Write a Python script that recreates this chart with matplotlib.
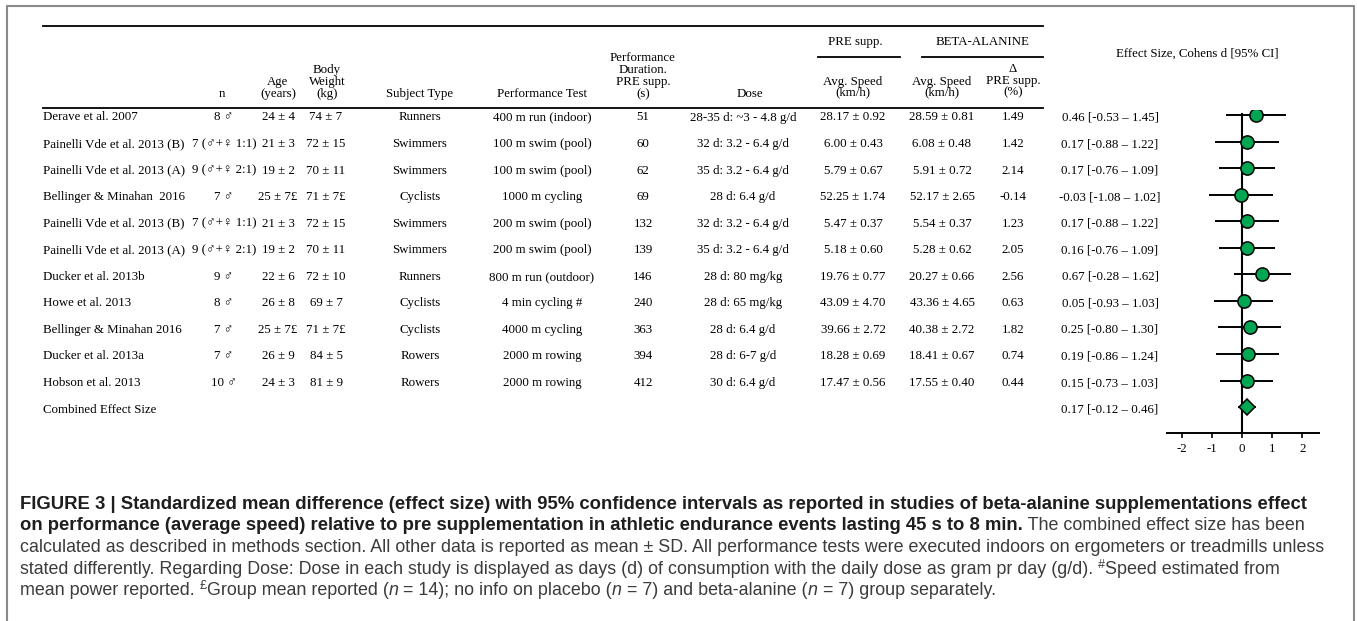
import matplotlib.pyplot as plt
import numpy as np

# table data, one entry per study row
studies = ["Derave et al. 2007", "Painelli Vde et al. 2013 (B)", "Painelli Vde et al. 2013 (A)",
           "Bellinger & Minahan  2016", "Painelli Vde et al. 2013 (B)", "Painelli Vde et al. 2013 (A)",
           "Ducker et al. 2013b", "Howe et al. 2013", "Bellinger & Minahan 2016",
           "Ducker et al. 2013a", "Hobson et al. 2013"]
n_subj = ["8 ♂", "7 (♂+♀ 1:1)", "9 (♂+♀ 2:1)", "7 ♂", "7 (♂+♀ 1:1)", "9 (♂+♀ 2:1)",
          "9 ♂", "8 ♂", "7 ♂", "7 ♂", "10 ♂"]
age = ["24 ± 4", "21 ± 3", "19 ± 2", "25 ± 7£", "21 ± 3", "19 ± 2", "22 ± 6", "26 ± 8",
       "25 ± 7£", "26 ± 9", "24 ± 3"]
weight = ["74 ± 7", "72 ± 15", "70 ± 11", "71 ± 7£", "72 ± 15", "70 ± 11", "72 ± 10", "69 ± 7",
          "71 ± 7£", "84 ± 5", "81 ± 9"]
subject = ["Runners", "Swimmers", "Swimmers", "Cyclists", "Swimmers", "Swimmers", "Runners",
           "Cyclists", "Cyclists", "Rowers", "Rowers"]
perf_test = ["400 m run (indoor)", "100 m swim (pool)", "100 m swim (pool)", "1000 m cycling",
             "200 m swim (pool)", "200 m swim (pool)", "800 m run (outdoor)", "4 min cycling #",
             "4000 m cycling", "2000 m rowing", "2000 m rowing"]
duration = [51, 60, 62, 69, 132, 139, 146, 240, 363, 394, 412]
dose = ["28-35 d: ~3 - 4.8 g/d", "32 d: 3.2 - 6.4 g/d", "35 d: 3.2 - 6.4 g/d", "28 d: 6.4 g/d",
        "32 d: 3.2 - 6.4 g/d", "35 d: 3.2 - 6.4 g/d", "28 d: 80 mg/kg", "28 d: 65 mg/kg",
        "28 d: 6.4 g/d", "28 d: 6-7 g/d", "30 d: 6.4 g/d"]
pre_speed = [28.17, 6.00, 5.79, 52.25, 5.47, 5.18, 19.76, 43.09, 39.66, 18.28, 17.47]
pre_sd = [0.92, 0.43, 0.67, 1.74, 0.37, 0.60, 0.77, 4.70, 2.72, 0.69, 0.56]
ba_speed = [28.59, 6.08, 5.91, 52.17, 5.54, 5.28, 20.27, 43.36, 40.38, 18.41, 17.55]
ba_sd = [0.81, 0.48, 0.72, 2.65, 0.37, 0.62, 0.66, 4.65, 2.72, 0.67, 0.40]
delta_pct = [1.49, 1.42, 2.14, -0.14, 1.23, 2.05, 2.56, 0.63, 1.82, 0.74, 0.44]

# effect sizes (Cohens d) with 95% CI
es = [0.46, 0.17, 0.17, -0.03, 0.17, 0.16, 0.67, 0.05, 0.25, 0.19, 0.15]
ci_lo = [-0.53, -0.88, -0.76, -1.08, -0.88, -0.76, -0.28, -0.93, -0.80, -0.86, -0.73]
ci_hi = [1.45, 1.22, 1.09, 1.02, 1.22, 1.09, 1.62, 1.03, 1.30, 1.24, 1.03]
comb_es, comb_lo, comb_hi = 0.17, -0.12, 0.46
es_ticks = [-2, -1, 0, 1, 2]

W, H = 1357, 621
SERIF = ["Liberation Serif", "DejaVu Sans"]
SANS = ["Liberation Sans", "DejaVu Sans"]
green = "#00a651"
FS = 9.3

fig = plt.figure(figsize=(W / 100, H / 100), dpi=100)
cv = fig.add_axes([0, 0, 1, 1])
cv.set_xlim(0, W)
cv.set_ylim(H, 0)
cv.axis("off")

# grey frame round the figure
cv.plot([7, 7, 1354, 1354], [H, 6, 6, H], color="#8a8a8a", lw=1.5)

row0, row_h = 115, 26.55


def row_y(i):
    return row0 + row_h * i


def txt(x, y, s, ha="center", **kw):
    cv.text(x, y, s, ha=ha, va="baseline", fontsize=FS, family=SERIF, color="black", **kw)


# table rules
for y in (26, 108):
    cv.plot([43, 1043], [y, y], color="black", lw=1.3)
cv.plot([818, 900], [57, 57], color="black", lw=1.3)
cv.plot([922, 1043], [57, 57], color="black", lw=1.3)

# header
txt(222, 97, "n")
for s, y in zip(["Age", "(years)"], [85, 97]):
    txt(278, y, s)
for s, y in zip(["Body", "Weight", "(kg)"], [73, 85, 97]):
    txt(327, y, s)
txt(420, 97, "Subject Type")
txt(542, 97, "Performance Test")
for s, y in zip(["Performance", "Duration.", "PRE supp.", "(s)"], [61, 73, 85, 97]):
    txt(643, y, s)
txt(750, 97, "Dose")
txt(855, 45, "PRE supp.")
txt(983, 45, "BETA-ALANINE")
for x in (853, 942):
    txt(x, 85, "Avg. Speed")
    txt(x, 95, "(km/h)")
for s, y in zip(["Δ", "PRE supp.", "(%)"], [72, 84, 95]):
    txt(1013, y, s)
txt(1197, 57, "Effect Size, Cohens d [95% CI]")

# table body
for i in range(len(studies)):
    y = row_y(i) + 5.5
    txt(43, y, studies[i], ha="left")
    txt(224, y, n_subj[i])
    txt(278, y, age[i])
    txt(326, y, weight[i])
    txt(420, y, subject[i])
    txt(542, y, perf_test[i])
    txt(643, y, str(duration[i]))
    txt(743, y, dose[i])
    txt(853, y, f"{pre_speed[i]:.2f} ± {pre_sd[i]:.2f}")
    txt(942, y, f"{ba_speed[i]:.2f} ± {ba_sd[i]:.2f}")
    txt(1013, y, f"{delta_pct[i]:.2f}")
    txt(1110, y, f"{es[i]:.2f} [{ci_lo[i]:.2f} – {ci_hi[i]:.2f}]")
yc = row_y(len(studies)) + 5.5
txt(43, yc, "Combined Effect Size", ha="left")
txt(1110, yc, f"{comb_es:.2f} [{comb_lo:.2f} – {comb_hi:.2f}]")

# forest plot
ax_top, ax_bot = 110, 433
ax = fig.add_axes([1167 / W, (H - ax_bot) / H, (1319 - 1167) / W, (ax_bot - ax_top) / H])
ax.patch.set_alpha(0)
rows = np.arange(len(es))
yb = (ax_bot - row0) / row_h
ax.plot([0, 0], [-0.05, yb], color="black", lw=1.5, zorder=1)
ax.hlines(rows, ci_lo, ci_hi, color="black", lw=1.4, zorder=2)
ax.plot(es, rows, "o", ms=9.5, mfc=green, mec="black", mew=1.1, zorder=3)
ax.hlines(len(es), comb_lo, comb_hi, color="black", lw=1.4, zorder=2)
ax.plot([comb_es], [len(es)], "D", ms=8, mfc=green, mec="black", mew=1.1, zorder=3)
ax.set_xlim((1167 - 1242) / 30.2, (1319 - 1242) / 30.2)
ax.set_ylim(yb, (ax_top - row0) / row_h)
for s in ("top", "left", "right"):
    ax.spines[s].set_visible(False)
ax.spines["bottom"].set_linewidth(1.4)
ax.set_yticks([])
ax.set_xticks(es_ticks)
ax.set_xticklabels([str(t) for t in es_ticks], fontsize=FS, family=SERIF)
ax.tick_params(axis="x", direction="out", length=3.5, width=1.2, pad=4)

# caption with mixed bold / regular runs
BFS, RFS = 13.35, 12.85
renderer = fig.canvas.get_renderer()


def width(s, kw):
    t1 = cv.text(0, 0, "|" + s + "|", **kw)
    t2 = cv.text(0, 0, "||", **kw)
    w = t1.get_window_extent(renderer).width - t2.get_window_extent(renderer).width
    t1.remove()
    t2.remove()
    return w


def caption_line(y, parts):
    x = 20
    for s, style in parts:
        kw = dict(family=SANS, fontsize=RFS, color="#3c3c3c")
        dy = 0
        if style == "b":
            kw.update(weight="bold", color="#1e1e1e", fontsize=BFS)
        elif style == "i":
            kw.update(style="italic")
        elif style == "sup":
            kw.update(fontsize=RFS * 0.7)
            dy = -6
        cv.text(x, y + dy, s, ha="left", va="baseline", **kw)
        x += width(s, kw)


cap = [
    [("FIGURE 3 | Standardized mean difference (effect size) with 95% confidence intervals as reported "
      "in studies of beta-alanine supplementations effect", "b")],
    [("on performance (average speed) relative to pre supplementation in athletic endurance events "
      "lasting 45 s to 8 min.", "b"), (" The combined effect size has been", "r")],
    [("calculated as described in methods section. All other data is reported as mean ± SD. All "
      "performance tests were executed indoors on ergometers or treadmills unless", "r")],
    [("stated differently. Regarding Dose: Dose in each study is displayed as days (d) of consumption "
      "with the daily dose as gram pr day (g/d). ", "r"), ("#", "sup"), ("Speed estimated from", "r")],
    [("mean power reported. ", "r"), ("£", "sup"), ("Group mean reported (", "r"), ("n", "i"),
     (" = 14); no info on placebo (", "r"), ("n", "i"), (" = 7) and beta-alanine (", "r"),
     ("n", "i"), (" = 7) group separately.", "r")],
]
for k, parts in enumerate(cap):
    caption_line(509 + 21.5 * k, parts)

fig.savefig("out.png", dpi=100)
